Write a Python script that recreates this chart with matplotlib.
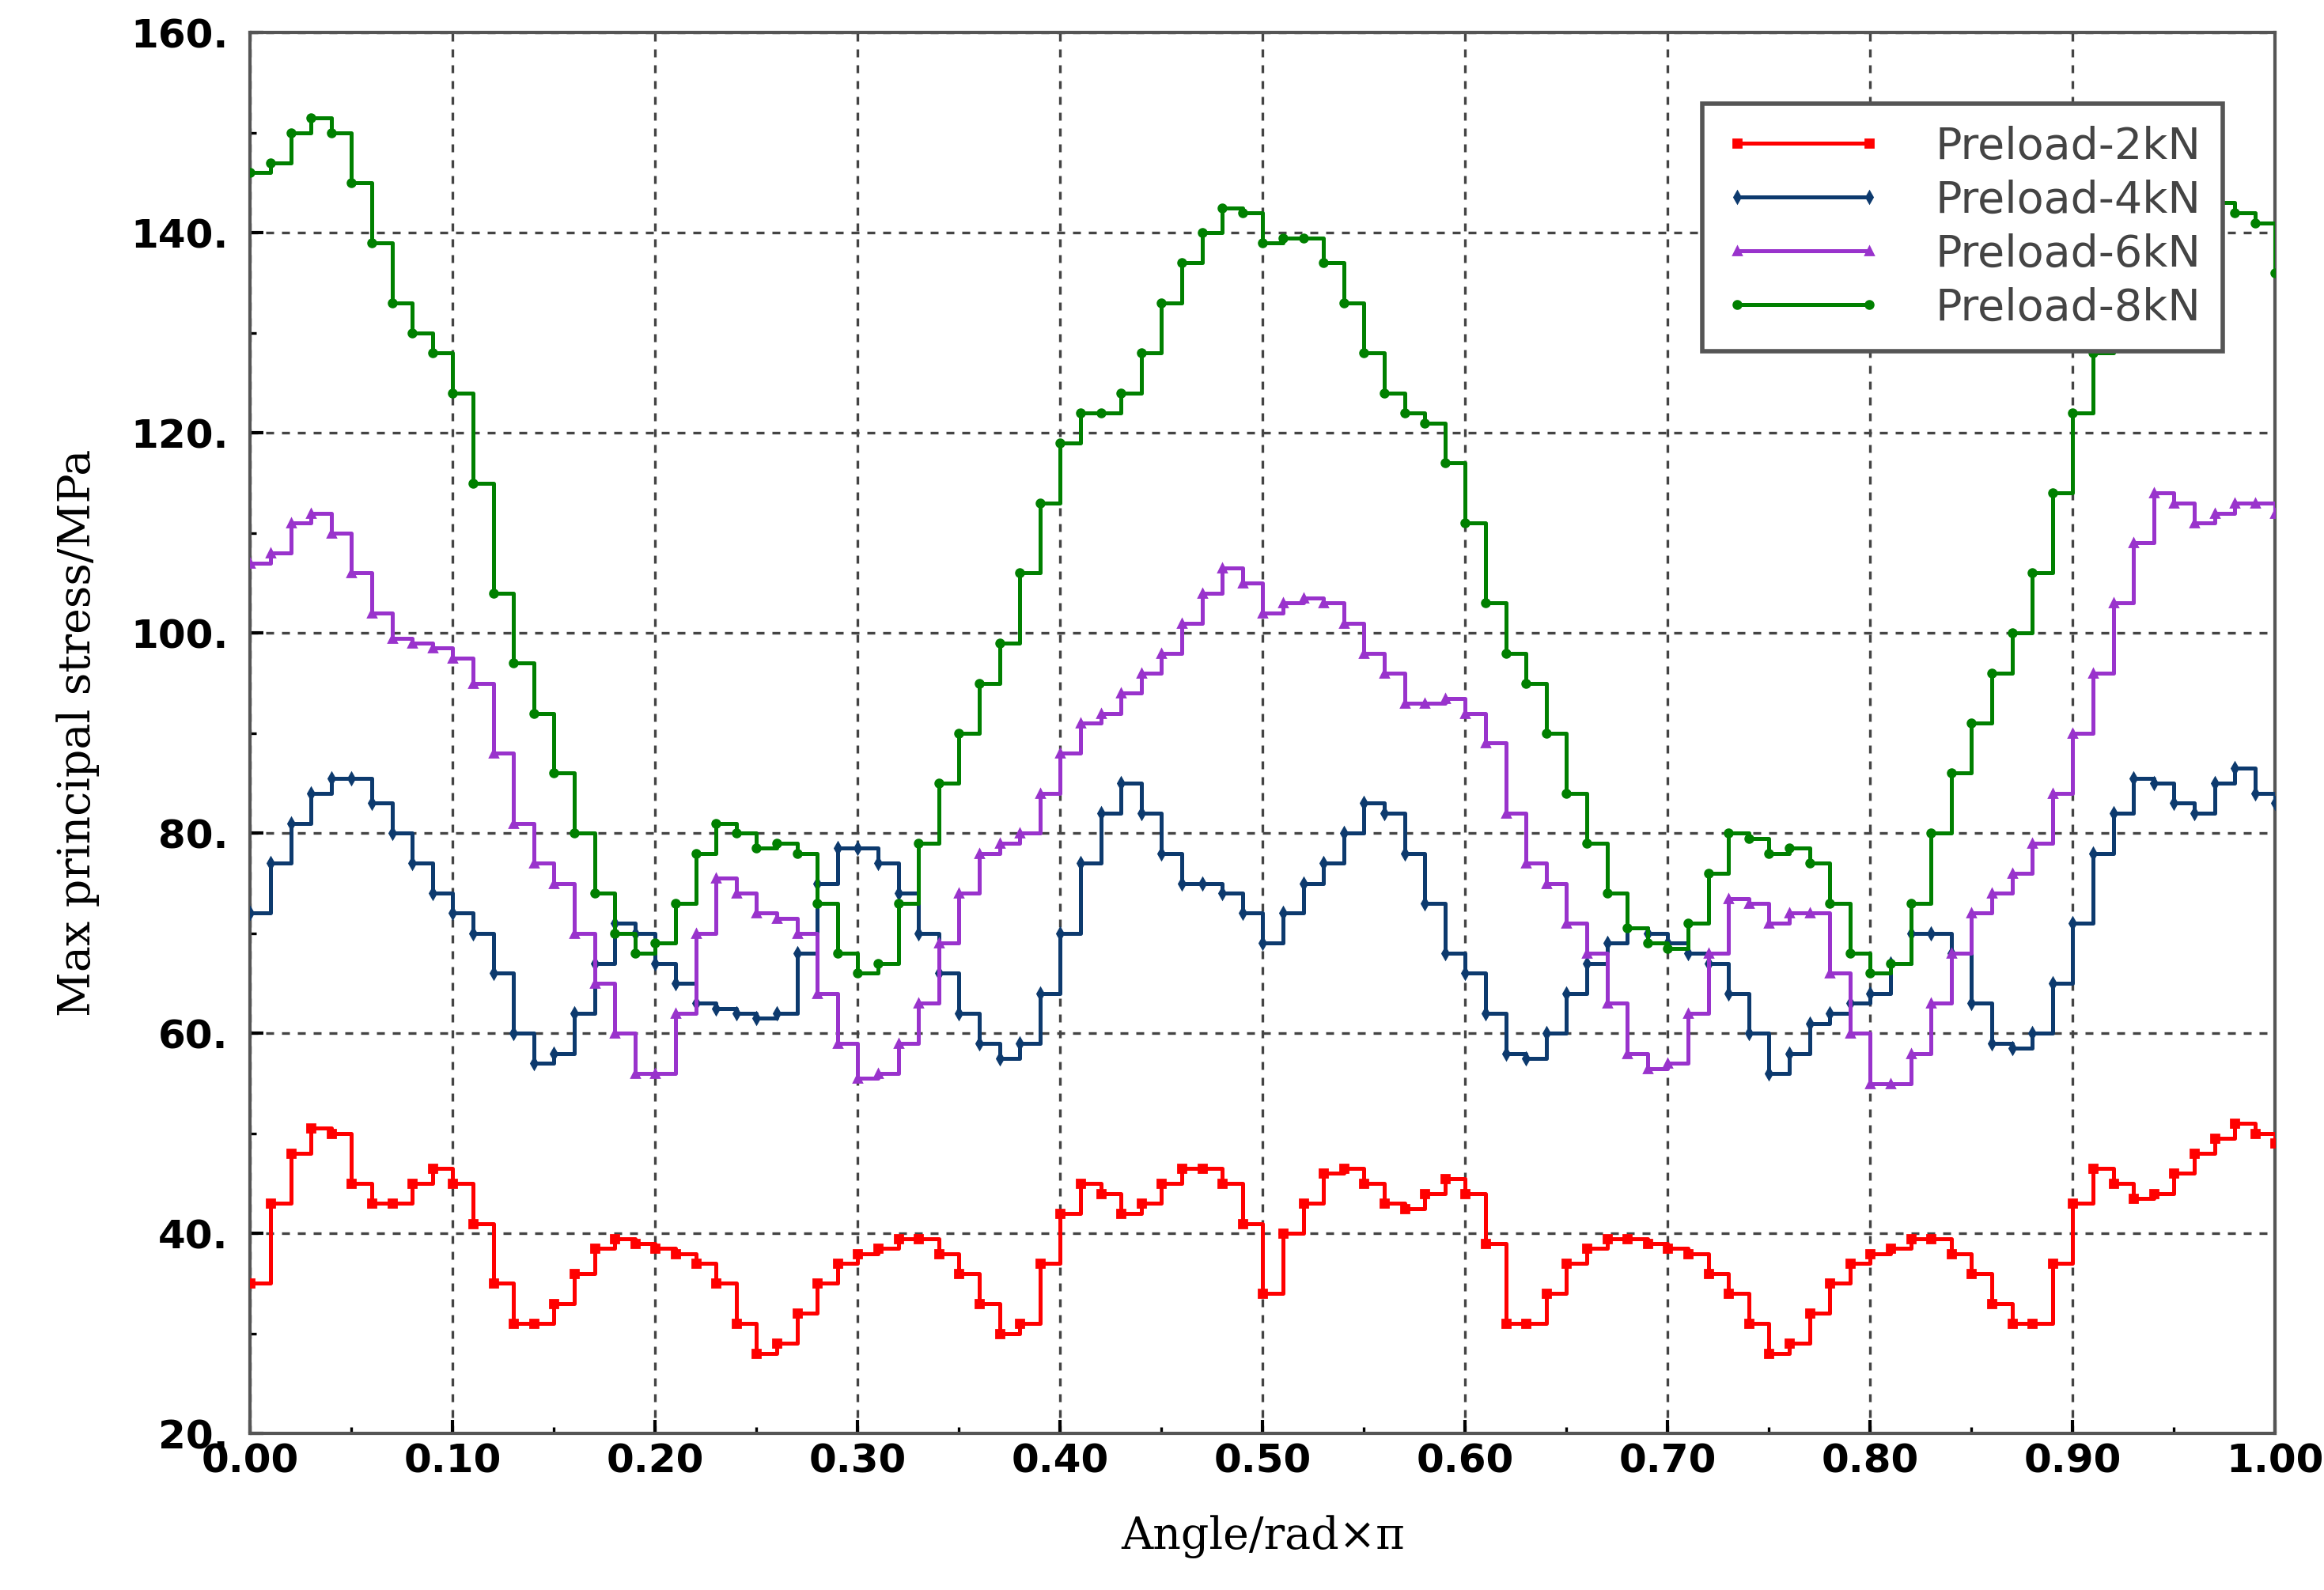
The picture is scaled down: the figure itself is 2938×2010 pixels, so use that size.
import matplotlib
matplotlib.use("Agg")
import matplotlib.pyplot as plt
import numpy as np

# stress values sampled every 0.01 (angle/rad x pi)
preload_2kN = [35, 43, 48, 50.5, 50, 45, 43, 43, 45, 46.5, 45, 41, 35, 31, 31, 33, 36, 38.5, 39.5, 39,
               38.5, 38, 37, 35, 31, 28, 29, 32, 35, 37, 38, 38.5, 39.5, 39.5, 38, 36, 33, 30, 31, 37,
               42, 45, 44, 42, 43, 45, 46.5, 46.5, 45, 41, 34, 40, 43, 46, 46.5, 45, 43, 42.5, 44, 45.5,
               44, 39, 31, 31, 34, 37, 38.5, 39.5, 39.5, 39, 38.5, 38, 36, 34, 31, 28, 29, 32, 35, 37,
               38, 38.5, 39.5, 39.5, 38, 36, 33, 31, 31, 37, 43, 46.5, 45, 43.5, 44, 46, 48, 49.5, 51, 50,
               49]
preload_4kN = [72, 77, 81, 84, 85.5, 85.5, 83, 80, 77, 74, 72, 70, 66, 60, 57, 58, 62, 67, 71, 70,
               67, 65, 63, 62.5, 62, 61.5, 62, 68, 75, 78.5, 78.5, 77, 74, 70, 66, 62, 59, 57.5, 59, 64,
               70, 77, 82, 85, 82, 78, 75, 75, 74, 72, 69, 72, 75, 77, 80, 83, 82, 78, 73, 68,
               66, 62, 58, 57.5, 60, 64, 67, 69, 70.5, 70, 69, 68, 67, 64, 60, 56, 58, 61, 62, 63,
               64, 67, 70, 70, 68, 63, 59, 58.5, 60, 65, 71, 78, 82, 85.5, 85, 83, 82, 85, 86.5, 84,
               83]
preload_6kN = [107, 108, 111, 112, 110, 106, 102, 99.5, 99, 98.5, 97.5, 95, 88, 81, 77, 75, 70, 65, 60, 56,
               56, 62, 70, 75.5, 74, 72, 71.5, 70, 64, 59, 55.5, 56, 59, 63, 69, 74, 78, 79, 80, 84,
               88, 91, 92, 94, 96, 98, 101, 104, 106.5, 105, 102, 103, 103.5, 103, 101, 98, 96, 93, 93, 93.5,
               92, 89, 82, 77, 75, 71, 68, 63, 58, 56.5, 57, 62, 68, 73.5, 73, 71, 72, 72, 66, 60,
               55, 55, 58, 63, 68, 72, 74, 76, 79, 84, 90, 96, 103, 109, 114, 113, 111, 112, 113, 113,
               112]
preload_8kN = [146, 147, 150, 151.5, 150, 145, 139, 133, 130, 128, 124, 115, 104, 97, 92, 86, 80, 74, 70, 68,
               69, 73, 78, 81, 80, 78.5, 79, 78, 73, 68, 66, 67, 73, 79, 85, 90, 95, 99, 106, 113,
               119, 122, 122, 124, 128, 133, 137, 140, 142.5, 142, 139, 139.5, 139.5, 137, 133, 128, 124, 122, 121, 117,
               111, 103, 98, 95, 90, 84, 79, 74, 70.5, 69, 68.5, 71, 76, 80, 79.5, 78, 78.5, 77, 73, 68,
               66, 67, 73, 80, 86, 91, 96, 100, 106, 114, 122, 128, 133, 137, 140, 142, 143, 143, 142, 141,
               136]

series = [
    ("Preload-2kN", preload_2kN, "#ff0000", "s"),
    ("Preload-4kN", preload_4kN, "#0d3a6e", "d"),
    ("Preload-6kN", preload_6kN, "#9933cc", "^"),
    ("Preload-8kN", preload_8kN, "#008000", "o"),
]

fig = plt.figure(figsize=(14.69, 10.05), dpi=200)
ax = fig.add_axes([0.1077, 0.0984, 0.8713, 0.8810])

for name, vals, col, mk in series:
    x = np.linspace(0, 1, len(vals))
    ax.plot(x, vals, color=col, lw=1.8, drawstyle="steps-post", marker=mk, markersize=3.5,
            label=name, zorder=3)

ax.set_xlim(0, 1.0)
ax.set_ylim(20, 160)
ax.set_xticks(np.arange(0, 1.001, 0.1))
ax.set_xticklabels(["%.2f" % v for v in np.arange(0, 1.001, 0.1)])
ax.set_yticks(np.arange(20, 161, 20))
ax.set_yticklabels(["%d." % v for v in range(20, 161, 20)])
ax.set_xticks(np.arange(0, 1.001, 0.05), minor=True)
ax.set_yticks(np.arange(20, 161, 10), minor=True)
ax.tick_params(direction="in", length=6, width=1.5, labelsize=18)
ax.tick_params(axis="y", pad=10)
ax.tick_params(axis="x", pad=4)
ax.tick_params(which="minor", direction="in", length=3, width=1.2)
for lab in ax.get_xticklabels() + ax.get_yticklabels():
    lab.set_fontweight("bold")
ax.grid(True, which="major", color="#444444", ls=(0, (3, 3)), lw=1.2)
for s in ax.spines.values():
    s.set_color("#555555")
    s.set_linewidth(1.5)

ax.set_xlabel("Angle/rad×π", family="DejaVu Serif", fontsize=20, labelpad=16)
ax.set_ylabel("Max principal stress/MPa", family="DejaVu Serif", fontsize=20, labelpad=14)

leg = ax.legend(loc="upper right", bbox_to_anchor=(0.985, 0.965), fontsize=20, frameon=True,
                fancybox=False, edgecolor="#555555", handlelength=3.6, borderpad=0.5,
                labelspacing=0.25, numpoints=2, framealpha=1.0, handletextpad=1.2)
leg.get_frame().set_linewidth(2)
leg.set_zorder(10)
for t in leg.get_texts():
    t.set_color("#444444")

fig.savefig("out.png", dpi=200)
